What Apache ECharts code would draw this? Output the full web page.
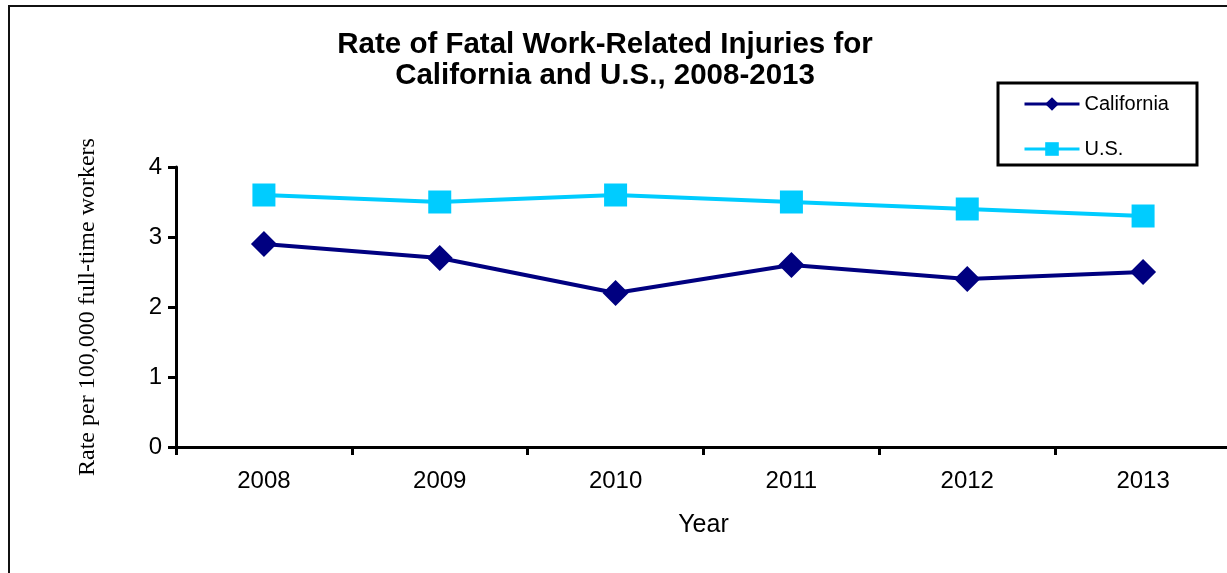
<!DOCTYPE html>
<html>
<head>
<meta charset="utf-8">
<script src="https://cdn.jsdelivr.net/npm/echarts@6/dist/echarts.min.js"></script>
<style>
html,body{margin:0;padding:0;background:#fff;}
#chart{width:1227px;height:573px;}
</style>
</head>
<body>
<div id="chart"></div>
<script>
var years = ['2008', '2009', '2010', '2011', '2012', '2013'];
var california = [2.9, 2.7, 2.2, 2.6, 2.4, 2.5];
var us = [3.6, 3.5, 3.6, 3.5, 3.4, 3.3];
var yTicks = [0, 1, 2, 3, 4];

var chart = echarts.init(document.getElementById('chart'), null, {renderer: 'canvas'});
var option = {
  backgroundColor: '#fff',
  animation: false,
  title: {
    text: 'Rate of Fatal Work-Related Injuries for\nCalifornia and U.S., 2008-2013',
    left: 605,
    top: 29,
    textAlign: 'center',
    padding: 0,
    textStyle: {
      fontFamily: 'Liberation Sans, Arial, sans-serif',
      fontWeight: 'bold',
      fontSize: 29.5,
      lineHeight: 31,
      color: '#000'
    }
  },
  graphic: [
    {
      type: 'rect',
      shape: {x: 9, y: 6, width: 1400, height: 800},
      style: {fill: 'none', stroke: '#111', lineWidth: 2},
      silent: true, z: 0
    },
    {
      type: 'rect',
      shape: {x: 998, y: 83, width: 199, height: 82},
      style: {fill: '#fff', stroke: '#000', lineWidth: 3},
      silent: true, z: 1
    }
  ],
  legend: {
    orient: 'vertical',
    left: 1023,
    top: 94,
    padding: 0,
    itemWidth: 55,
    itemHeight: 17,
    itemGap: 25,
    z: 5,
    data: ['California', 'U.S.'],
    lineStyle: {width: 3},
    textStyle: {
      fontFamily: 'Liberation Sans, Arial, sans-serif',
      fontSize: 20,
      color: '#000',
      padding: [0, 0, 0, 0]
    }
  },
  grid: {
    left: 176,
    top: 167,
    width: 1055,
    height: 280,
    containLabel: false,
    outerBoundsMode: 'none'
  },
  xAxis: {
    type: 'category',
    data: years,
    boundaryGap: true,
    name: 'Year',
    nameLocation: 'middle',
    nameGap: 66,
    nameTextStyle: {
      fontFamily: 'Liberation Sans, Arial, sans-serif',
      fontSize: 25,
      color: '#000'
    },
    axisLine: {lineStyle: {color: '#000', width: 3}},
    axisTick: {show: true, alignWithLabel: false, length: 8, lineStyle: {color: '#000', width: 3}},
    axisLabel: {
      margin: 22,
      fontFamily: 'Liberation Sans, Arial, sans-serif',
      fontSize: 24,
      color: '#000'
    },
    splitLine: {show: false}
  },
  yAxis: {
    type: 'value',
    min: yTicks[0],
    max: yTicks[yTicks.length - 1],
    interval: 1,
    name: 'Rate per 100,000 full-time workers',
    nameLocation: 'middle',
    nameGap: 76,
    nameRotate: 90,
    nameTextStyle: {
      fontFamily: 'Liberation Serif, Times New Roman, serif',
      fontSize: 24,
      color: '#000'
    },
    axisLine: {show: true, lineStyle: {color: '#000', width: 3}},
    axisTick: {show: true, length: 8, lineStyle: {color: '#000', width: 3}},
    axisLabel: {
      margin: 14,
      fontFamily: 'Liberation Sans, Arial, sans-serif',
      fontSize: 24,
      color: '#000'
    },
    splitLine: {show: false}
  },
  series: [
    {
      name: 'California',
      type: 'line',
      data: california,
      symbol: 'diamond',
      symbolSize: 26,
      lineStyle: {color: '#000080', width: 4},
      itemStyle: {color: '#000080'},
      z: 3
    },
    {
      name: 'U.S.',
      type: 'line',
      data: us,
      symbol: 'rect',
      symbolSize: 23,
      lineStyle: {color: '#00CCFF', width: 4},
      itemStyle: {color: '#00CCFF'},
      z: 3
    }
  ]
};
chart.setOption(option);
</script>
</body>
</html>
